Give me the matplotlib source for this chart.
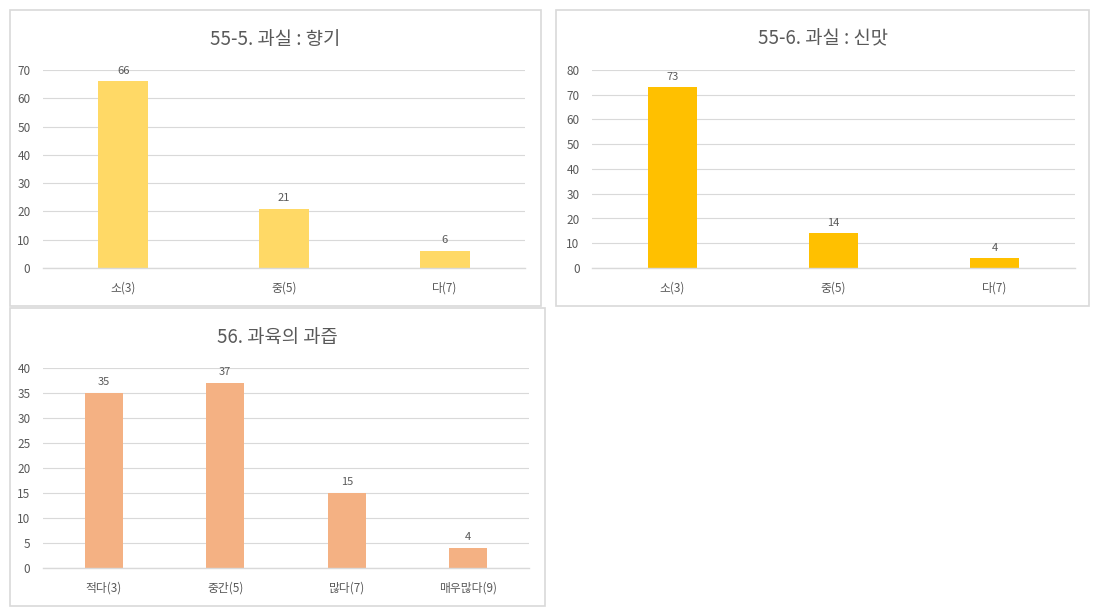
import matplotlib.pyplot as plt
from matplotlib.patches import Rectangle

plt.rcParams['font.family'] = ['Noto Sans CJK KR', 'DejaVu Sans']

# data
titles = ['55-5. 과실 : 향기', '55-6. 과실 : 신맛', '56. 과육의 과즙']
cats_1 = ['소(3)', '중(5)', '다(7)']
vals_1 = [66, 21, 6]
cats_2 = ['소(3)', '중(5)', '다(7)']
vals_2 = [73, 14, 4]
cats_3 = ['적다(3)', '중간(5)', '많다(7)', '매우많다(9)']
vals_3 = [35, 37, 15, 4]

W, H = 1098, 616
fig = plt.figure(figsize=(W / 100, H / 100), dpi=100)
fig.patch.set_facecolor('white')

txt = '#595959'
grid = '#D9D9D9'


def px_axes(x0, y0, x1, y1):
    # pixel box (top-left origin) -> figure axes
    return fig.add_axes([x0 / W, 1 - y1 / H, (x1 - x0) / W, (y1 - y0) / H])


def panel(box, plot, title, cats, vals, color, ymax, step):
    bx0, by0, bx1, by1 = box
    fig.patches.append(Rectangle((bx0 / W, 1 - by1 / H), (bx1 - bx0) / W, (by1 - by0) / H,
                                 transform=fig.transFigure, fill=False,
                                 edgecolor=grid, linewidth=1.2))
    fig.text((bx0 + bx1) / 2 / W, 1 - (by0 + 29) / H, title, ha='center', va='center',
             fontsize=13.5, color=txt)
    ax = px_axes(*plot)
    x = list(range(len(cats)))
    ax.bar(x, vals, width=0.31, color=color, zorder=3)
    for xi, v in zip(x, vals):
        ax.annotate(str(v), (xi, v), xytext=(0, 4), textcoords='offset points',
                    ha='center', va='bottom', fontsize=8, color=txt)
    ax.set_xlim(-0.5, len(cats) - 0.5)
    ax.set_ylim(0, ymax)
    ax.set_yticks(range(0, ymax + 1, step))
    ax.set_xticks(x)
    ax.set_xticklabels(cats)
    ax.grid(axis='y', color=grid, linewidth=0.8, zorder=0)
    ax.axhline(0, color=grid, linewidth=1.0, zorder=4, clip_on=False)
    for s in ax.spines.values():
        s.set_visible(False)
    ax.tick_params(axis='both', length=0, labelsize=8.5, labelcolor=txt)
    ax.tick_params(axis='y', pad=9)
    ax.tick_params(axis='x', pad=10)
    return ax


panel((10, 10, 541, 306), (43, 70, 525, 268), titles[0], cats_1, vals_1, '#FFD966', 70, 10)
panel((556, 10, 1089, 306), (592, 70, 1075, 268), titles[1], cats_2, vals_2, '#FFC000', 80, 10)
panel((10, 308, 545, 606), (43, 368, 529, 568), titles[2], cats_3, vals_3, '#F4B183', 40, 5)

fig.savefig('out.png', dpi=100, facecolor='white')
